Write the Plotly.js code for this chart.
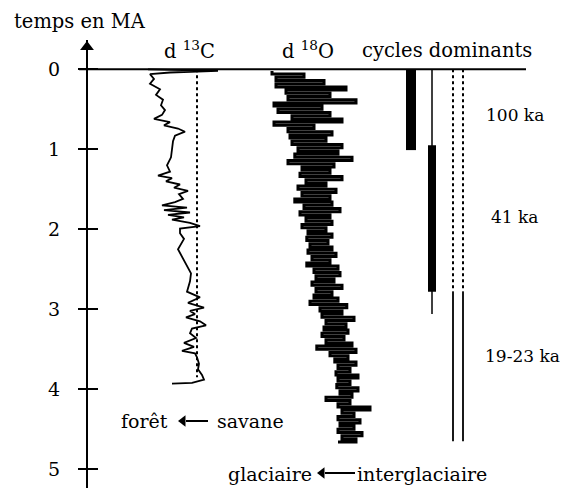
<!DOCTYPE html>
<html>
<head>
<meta charset="utf-8">
<script src="https://cdn.plot.ly/plotly-3.0.1.min.js"></script>
<style>html,body{margin:0;padding:0;background:#fff;}#chart{width:563px;height:488px;}</style>
</head>
<body>
<div id="chart"></div>
<script>
// ---------- DATA ----------
// Age axis ticks (millions of years)
const ageTicks = [0, 1, 2, 3, 4, 5];
const ageTickLabels = ['0', '1', '2', '3', '4', '5'];

// d13C record (age in MA, value in permil)
const d13C_age = [0.00,0.02,0.04,0.06,0.12,0.18,0.25,0.32,0.38,0.45,0.51,0.57,0.62,0.66,0.70,0.74,0.78,0.83,0.90,1.00,
  1.10,1.20,1.28,1.33,1.36,1.40,1.44,1.48,1.52,1.56,1.62,1.66,1.70,1.73,1.76,1.79,1.82,1.85,1.88,1.92,
  1.96,1.99,2.05,2.12,2.20,2.25,2.55,2.65,2.78,2.85,2.92,2.98,3.02,3.06,3.10,3.15,3.20,3.24,3.30,3.36,
  3.42,3.47,3.52,3.55,3.60,3.68,3.75,3.82,3.88,3.92,3.93];
const d13C_val = [-11.2,-4.2,-9.0,-11.0,-10.6,-11.0,-10.0,-10.4,-9.7,-9.9,-9.5,-9.8,-10.6,-9.0,-9.6,-8.2,-7.5,-8.5,-8.7,-8.8,
  -8.9,-9.3,-9.0,-10.2,-8.8,-9.4,-8.0,-8.6,-7.2,-8.1,-7.7,-8.5,-9.8,-7.3,-9.6,-7.0,-9.2,-7.6,-8.8,-7.0,
  -6.0,-8.0,-8.0,-7.6,-8.0,-8.2,-6.9,-7.0,-7.3,-6.0,-7.2,-5.6,-7.0,-6.5,-7.4,-6.0,-5.4,-6.8,-7.0,-6.4,
  -7.6,-6.6,-7.8,-6.5,-6.3,-6.1,-6.2,-5.8,-5.6,-6.8,-8.8];
const d13C_refValue = -6.3;
const d13C_refAges = [0, 3.85];

// d18O record (age in MA, value in permil)
const d18O_age = [0.02,0.06,0.10,0.14,0.18,0.22,0.26,0.30,0.34,0.38,
  0.42,0.46,0.50,0.54,0.58,0.62,0.66,0.70,0.74,0.78,
  0.82,0.86,0.90,0.94,0.98,1.02,1.06,1.10,1.14,1.18,
  1.22,1.26,1.30,1.34,1.38,1.42,1.46,1.50,1.54,1.58,
  1.62,1.66,1.70,1.74,1.78,1.82,1.86,1.90,1.94,1.98,
  2.02,2.06,2.10,2.14,2.18,2.22,2.26,2.30,2.34,2.38,
  2.42,2.46,2.50,2.54,2.58,2.62,2.66,2.70,2.74,2.78,
  2.82,2.86,2.90,2.94,2.98,3.02,3.06,3.10,3.14,3.18,
  3.22,3.26,3.30,3.34,3.38,3.42,3.46,3.50,3.54,3.58,
  3.62,3.66,3.70,3.74,3.78,3.82,3.86,3.90,3.94,3.98,
  4.02,4.06,4.10,4.14,4.18,4.22,4.26,4.30,4.34,4.38,
  4.42,4.46,4.50,4.54,4.58,4.62,4.66];
const d18O_val = [4.95,4.15,4.85,3.65,4.85,3.10,4.60,3.50,4.55,2.85,
  4.90,3.70,4.80,3.50,4.45,3.20,4.90,3.90,4.55,3.45,
  4.50,3.60,4.45,3.20,4.30,3.30,4.38,2.95,4.55,3.40,
  4.20,3.50,4.25,3.20,4.10,3.60,4.30,3.35,4.20,3.50,
  4.38,3.45,4.15,3.25,4.25,3.50,4.10,3.45,4.20,3.60,
  4.05,3.45,4.08,3.55,4.00,3.45,4.05,3.35,3.95,3.50,
  4.08,3.30,3.90,3.25,3.85,3.40,3.95,3.20,3.85,3.45,
  3.90,3.30,4.00,3.08,3.75,3.20,3.70,2.90,3.60,3.10,
  3.65,3.05,3.70,3.15,3.60,2.95,3.83,2.85,3.50,3.05,
  3.38,2.85,3.30,3.00,3.35,2.80,3.30,3.00,3.33,2.80,
  3.25,2.95,3.60,3.00,3.30,2.50,3.20,2.90,3.30,2.75,
  3.25,2.90,3.30,2.70,3.20,2.85,3.30];

// Dominant orbital cycles (ages in MA)
const cycleNames = ['100 ka', '41 ka', '19-23 ka'];
const cycleDominantFrom = [0, 0.95, 2.78];
const cycleDominantTo = [1.01, 2.78, 4.65];
const cycleWeakFrom = [null, 0, 0];
const cycleWeakTo = [null, 3.06, 2.78];

// ---------- LAYOUT HELPERS ----------
const W = 563, H = 488;
const yTop = 40, y0 = 69.3, pxPerMA = 80;
const ageAt = py => (py - y0) / pxPerMA;
const px = x => x / W;
const py = y => 1 - y / H;
const FONT = 'DejaVu Serif';
const skip = {hoverinfo: 'skip', showlegend: false};

const traces = [];
// d13C
traces.push(Object.assign({x: d13C_val, y: d13C_age, xaxis: 'x2', yaxis: 'y', mode: 'lines',
  line: {color: '#000', width: 1.8}}, skip));
traces.push(Object.assign({x: [d13C_refValue, d13C_refValue], y: d13C_refAges, xaxis: 'x2', yaxis: 'y', mode: 'lines',
  line: {color: '#000', width: 2, dash: 'dot'}}, skip));
// d18O
traces.push(Object.assign({x: d18O_val, y: d18O_age, xaxis: 'x3', yaxis: 'y', mode: 'lines',
  line: {color: '#000', width: 3.0, shape: 'vh'}}, skip));

// cycles (positions on the main pixel x axis)
const cyclePos = [[411], [432], [453, 463]];
const domWidth = [10, 8, 1.8];
cycleNames.forEach((name, i) => {
  cyclePos[i].forEach(xp => {
    if (cycleWeakFrom[i] !== null) {
      traces.push(Object.assign({x: [xp, xp], y: [cycleWeakFrom[i], cycleWeakTo[i]], xaxis: 'x', yaxis: 'y', mode: 'lines',
        line: {color: '#000', width: i === 2 ? 2 : 1.5, dash: i === 2 ? 'dot' : 'solid'}}, skip));
    }
    traces.push(Object.assign({x: [xp, xp], y: [cycleDominantFrom[i], cycleDominantTo[i]], xaxis: 'x', yaxis: 'y', mode: 'lines',
      line: {color: '#000', width: domWidth[i]}}, skip));
  });
});

// arrows (axis arrow + direction arrows) drawn as line + triangle marker
traces.push(Object.assign({x: [87], y: [ageAt(yTop + 7)], xaxis: 'x', yaxis: 'y', mode: 'markers',
  marker: {symbol: 'triangle-up', size: 12, color: '#000'}}, skip));
[[208, 183, 421], [355, 322, 473]].forEach(a => {
  traces.push(Object.assign({x: [a[0], a[1] + 3], y: [ageAt(a[2]), ageAt(a[2])], xaxis: 'x', yaxis: 'y', mode: 'lines',
    line: {color: '#000', width: 2}}, skip));
  traces.push(Object.assign({x: [a[1]], y: [ageAt(a[2])], xaxis: 'x', yaxis: 'y', mode: 'markers',
    marker: {symbol: 'triangle-left', size: 10, color: '#000'}}, skip));
});

const yRange = [ageAt(H), ageAt(yTop)];
const yDomain = [0, 1 - yTop / H];

const ann = (text, x, y, size) => ({text: text, x: px(x), y: py(y), xref: 'paper', yref: 'paper',
  showarrow: false, font: {family: FONT, size: size, color: '#000'}, xanchor: 'center', yanchor: 'middle'});

const annotations = [
  ann('temps en MA', 80, 22, 19.5),
  ann('d <sup>13</sup>C', 189, 50, 19.5),
  ann('d <sup>18</sup>O', 308, 50, 19.5),
  ann('cycles dominants', 447, 50, 19.5),
  ann(cycleNames[0], 515, 115, 17),
  ann(cycleNames[1], 514, 217, 17),
  ann(cycleNames[2], 522, 356, 17),
  ann('forêt', 144, 421, 19),
  ann('savane', 251, 421, 19),
  ann('glaciaire', 270, 474, 19),
  ann('interglaciaire', 422, 474, 19)
];

const layout = {
  width: W, height: H,
  margin: {l: 0, r: 0, t: 0, b: 0},
  paper_bgcolor: '#fff', plot_bgcolor: 'rgba(0,0,0,0)',
  showlegend: false,
  font: {family: FONT, color: '#000'},
  xaxis: {domain: [0, 1], range: [0, W], visible: false, anchor: 'y'},
  xaxis2: {domain: [px(140), px(230)], range: [-12, -3], visible: false, anchor: 'y'},
  xaxis3: {domain: [px(270), px(375)], range: [5.0, 2.375], visible: false, anchor: 'y'},
  yaxis: {domain: yDomain, range: yRange, anchor: 'free', position: px(87),
    showline: true, linecolor: '#000', linewidth: 2, showgrid: false, zeroline: false,
    ticks: 'outside', ticklen: 8, tickwidth: 2, tickcolor: '#000',
    tickvals: ageTicks, ticktext: ageTickLabels, ticklabelstandoff: 14,
    tickfont: {family: FONT, size: 19, color: '#000'}},
  yaxis2: {domain: yDomain, range: yRange, overlaying: 'y', anchor: 'free', position: px(87),
    showline: false, showgrid: false, zeroline: false, showticklabels: false,
    ticks: 'inside', ticklen: 10, tickwidth: 2, tickcolor: '#000', tickvals: ageTicks},
  shapes: [
    {type: 'line', xref: 'x', yref: 'y', x0: 79, x1: 526, y0: 0, y1: 0, line: {color: '#000', width: 2}}
  ],
  annotations: annotations
};

// dummy trace to render yaxis2 ticks
traces.push(Object.assign({x: [null], y: [null], xaxis: 'x', yaxis: 'y2', mode: 'lines'}, skip));

Plotly.newPlot('chart', traces, layout, {displayModeBar: false, staticPlot: true});
</script>
</body>
</html>
